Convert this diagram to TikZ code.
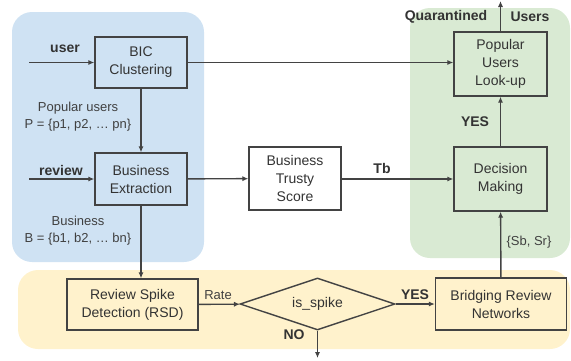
\documentclass[tikz,border=0pt]{standalone}
\usepackage{fontspec}
\setmainfont{Liberation Sans}
\usepackage{tikz}
\usetikzlibrary{shapes.geometric,arrows.meta}
\definecolor{areablue}{HTML}{CFE2F3}
\definecolor{areagreen}{HTML}{D9EAD3}
\definecolor{areayellow}{HTML}{FFF2CC}
\definecolor{edgegray}{HTML}{434343}
\newcommand\flowtag[1]{\textbf{#1}}

\begin{document}
\begin{tikzpicture}[x=0.5pt,y=-0.5pt,
	every node/.style={font=\fontsize{7}{9}\selectfont,text=black!80,align=center},
	area/.style={rounded corners=10pt,draw=none},
	box/.style={draw=edgegray,line width=0.7pt,inner sep=0pt},
	tag/.style={font=\fontsize{6.5}{8.5}\selectfont,text=black!75},
	flow/.style={draw=edgegray,line width=0.7pt,-{Latex[length=3pt,width=2.6pt]}}]
	\useasboundingbox (0,0) rectangle (571,360);
	% background areas
	\fill[area,areablue] (12,12) rectangle (204,262);
	\fill[area,areagreen] (410,8) rectangle (570,258);
	\fill[area,areayellow] (18,270) rectangle (570,349);
	% boxes
	\node[box,minimum width=46pt,minimum height=25.5pt] (bic) at (141,62.5) {BIC\\Clustering};
	\node[box,minimum width=46pt,minimum height=26pt] (extract) at (141,179) {Business\\Extraction};
	\node[box,fill=white,minimum width=46pt,minimum height=31.5pt] (trusty) at (295,178.5) {Business\\Trusty\\Score};
	\node[box,minimum width=46.5pt,minimum height=32pt] (lookup) at (500.5,64) {Popular\\Users\\Look-up};
	\node[box,minimum width=46.5pt,minimum height=32pt] (decide) at (500.5,179) {Decision\\Making};
	\node[box,minimum width=65.5pt,minimum height=25.5pt] (rsd) at (132.5,304.5) {Review Spike\\Detection (RSD)};
	\node[box,diamond,aspect=3,minimum width=77.5pt,minimum height=26pt] (spike) at (317.5,304) {is\_spike};
	\node[box,minimum width=65.5pt,minimum height=26pt] (bridge) at (501,304) {Bridging Review\\Networks};
	% free ends
	\coordinate (userin) at (29,62.5);
	\coordinate (reviewin) at (29,179);
	\coordinate (noout) at (317.5,358);
	\coordinate (quarout) at (500.5,1);
	% connectors
	\draw[flow] (userin) -- (bic);
	\draw[flow] (reviewin) -- (extract);
	\draw[flow] (bic) -- (extract);
	\draw[flow] (bic.east) -- (lookup.west |- bic.east);
	\draw[flow] (extract) -- (trusty);
	\draw[flow] (trusty.east |- decide.west) -- (decide.west);
	\draw[flow] (extract.south) -- (rsd.north -| extract.south);
	\draw[flow] (rsd) -- (spike);
	\draw[flow] (spike) -- (bridge);
	\draw[flow] (spike.south) -- (noout);
	\draw[flow] (bridge) -- (decide);
	\draw[flow] (decide) -- (lookup);
	\draw[flow] (lookup) -- (quarout);
	% labels
	\node (userlbl) at (65,49) {\flowtag{user}};
	\node (reviewlbl) at (61,170) {\flowtag{review}};
	\node[tag] (poplbl) at (78,117) {Popular users\\P = \{p1, p2, \dots\ pn\}};
	\node[tag] (buslbl) at (78,231) {Business\\B = \{b1, b2, \dots\ bn\}};
	\node (tblbl) at (382,168) {\flowtag{Tb}};
	\node[tag] (ratelbl) at (218,295) {Rate};
	\node (yeslow) at (415,295) {\flowtag{YES}};
	\node (nolbl) at (294,335) {\flowtag{NO}};
	\node[tag] (sblbl) at (529,242) {\{Sb, Sr\}};
	\node (yesup) at (475,122) {\flowtag{YES}};
	\node (quarlbl) at (446,17) {\flowtag{Quarantined}};
	\node (userslbl) at (530,17) {\flowtag{Users}};
\end{tikzpicture}
\end{document}
